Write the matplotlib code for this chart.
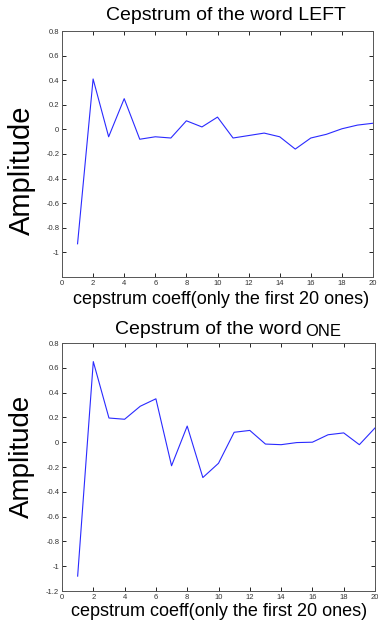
import matplotlib
matplotlib.use("Agg")
import matplotlib.pyplot as plt

plt.rcParams["font.family"] = ["Liberation Sans", "DejaVu Sans"]

# first 20 cepstrum coefficients of each word
coeff_idx = list(range(1, 21))
cep_left = [-0.93, 0.41, -0.06, 0.25, -0.08, -0.06, -0.07, 0.07, 0.02, 0.10,
            -0.07, -0.05, -0.03, -0.06, -0.16, -0.07, -0.04, 0.005, 0.035, 0.05]
cep_one = [-1.08, 0.65, 0.195, 0.185, 0.29, 0.35, -0.19, 0.13, -0.285, -0.17,
           0.08, 0.095, -0.015, -0.02, -0.003, 0.0, 0.06, 0.075, -0.02, 0.115]

xticks = list(range(0, 21, 2))
yticks_left = [-1, -0.8, -0.6, -0.4, -0.2, 0, 0.2, 0.4, 0.6, 0.8]
yticks_one = [-1.2, -1, -0.8, -0.6, -0.4, -0.2, 0, 0.2, 0.4, 0.6, 0.8]

W, H = 378, 626
fig = plt.figure(figsize=(W / 100, H / 100), dpi=100)


def px_axes(x0, y0, x1, y1):
    return fig.add_axes([x0 / W, 1 - y1 / H, (x1 - x0) / W, (y1 - y0) / H])


def style(ax, yticks):
    ax.set_xlim(0, 20)
    ax.set_ylim(-1.2, 0.8)
    ax.set_xticks(xticks)
    ax.set_yticks(yticks)
    ax.set_yticklabels(["%g" % t for t in yticks])
    ax.tick_params(direction="in", length=3, width=0.6, labelsize=5.5,
                   labelcolor="#333333", top=True, right=True, pad=2)
    for s in ax.spines.values():
        s.set_linewidth(0.7)
        s.set_color("#555555")


ax1 = px_axes(62, 31, 373, 277)
ax1.plot(coeff_idx, cep_left, color="#2a2aff", lw=0.8)
style(ax1, yticks_left)
fig.text(226 / W, 1 - 15 / H, "Cepstrum of the word LEFT", ha="center",
         va="center", fontsize=14)
fig.text(221 / W, 1 - 299 / H, "cepstrum coeff(only the first 20 ones)",
         ha="center", va="center", fontsize=13)
fig.text(22 / W, 1 - 170 / H, "Amplitude", rotation=90, ha="center",
         va="center", fontsize=21)

ax2 = px_axes(62, 343, 375, 591)
ax2.plot(coeff_idx, cep_one, color="#2a2aff", lw=0.8)
style(ax2, yticks_one)
fig.text(302 / W, 1 - 329 / H, "Cepstrum of the word", ha="right",
         va="center", fontsize=14)
fig.text(305 / W, 1 - 331 / H, "ONE", ha="left", va="center", fontsize=12)
fig.text(219 / W, 1 - 612 / H, "cepstrum coeff(only the first 20 ones)",
         ha="center", va="center", fontsize=13)
fig.text(22 / W, 1 - 456 / H, "Amplitude", rotation=90, ha="center",
         va="center", fontsize=20)

fig.savefig("out.png", dpi=100)
